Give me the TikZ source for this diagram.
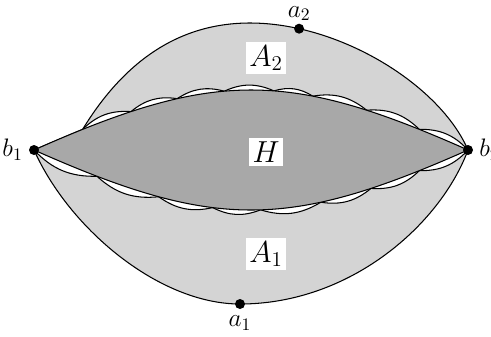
\documentclass[tikz,border=0pt]{standalone}
\usetikzlibrary{positioning}
\definecolor{lightreg}{gray}{0.83}
\definecolor{darkreg}{gray}{0.66}
\begin{document}
\begin{tikzpicture}[x=0.02cm,y=-0.02cm,line width=0.6pt,
  pt/.style={circle,fill=black,minimum size=2mm,inner sep=0pt},
  reg/.style={fill=white,inner sep=2pt,font=\LARGE},
  vlab/.style={font=\Large,inner sep=1pt}]
\useasboundingbox (0,0) rectangle (491,336);
\coordinate (B1) at (34,150);
\coordinate (B2) at (468,150);
% points on the two sides of the lens
\path (B1) .. controls (214,70) and (288,70) .. (B2)
  \foreach \t [count=\i] in {0.095,0.2,0.31,0.43,0.56,0.66,0.79,0.905,1}{coordinate[pos=\t] (T\i)};
\path (B1) .. controls (214,230) and (288,230) .. (B2)
  \foreach \t [count=\i] in {0,0.125,0.265,0.4,0.525,0.68,0.8,0.905,1}{coordinate[pos=\t] (U\i)};
% outer region
\filldraw[fill=lightreg] (T1) .. controls (125,60) and (180,23) .. (250,23)
  .. controls (340,23) and (440,85) .. coordinate[pos=0.18] (P2) (B2)
  .. controls (440,225) and (350,304) .. (240,304) coordinate (P1)
  .. controls (160,304) and (70,230) .. (B1) -- cycle;
% scallops
\foreach \i [evaluate=\i as \j using int(\i+1)] in {1,...,8}{
  \filldraw[fill=white] (T\i) to[bend left=24] (T\j);
  \filldraw[fill=white] (U\i) to[bend right=24] (U\j);
}
% lens
\filldraw[fill=darkreg] (B1) .. controls (214,70) and (288,70) .. (B2)
  .. controls (288,230) and (214,230) .. (B1) -- cycle;
\node[reg] (A2) at (266,58) {$A_2$};
\node[reg] (H) at (266,152) {$H$};
\node[reg] (A1) at (266,254) {$A_1$};
\node[pt] (b1) at (B1) {};
\node[pt] (b2) at (B2) {};
\node[pt] (a1) at (P1) {};
\node[pt] (a2) at (P2) {};
\node[vlab,left=2pt of b1] (lb1) {$b_1$};
\node[vlab,right=2pt of b2] (lb2) {$b_2$};
\node[vlab,below=2pt of a1] (la1) {$a_1$};
\node[vlab,above=0pt of a2] (la2) {$a_2$};
\end{tikzpicture}
\end{document}
